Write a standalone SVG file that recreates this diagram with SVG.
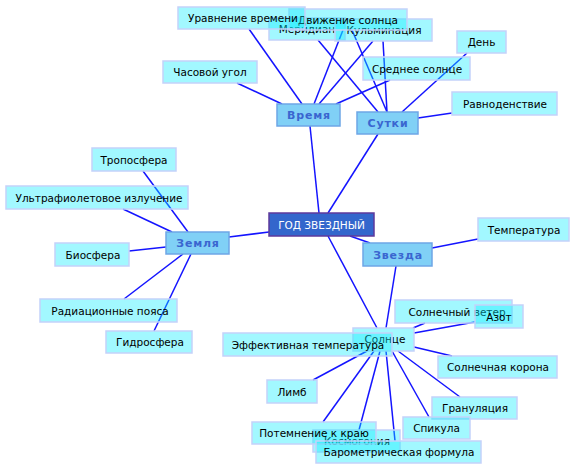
<svg xmlns="http://www.w3.org/2000/svg" width="576" height="470" viewBox="0 0 576 470">
<style>
.e{stroke:#1414ff;stroke-width:1.5;fill:none}
.l rect{fill:rgb(10,236,255);fill-opacity:0.38;stroke:#c4d2fa;stroke-width:1.5}
.l text{font-family:"DejaVu Sans",sans-serif;font-size:10.5px;fill:#000;text-anchor:middle}
.m rect{fill:#80d0f6;stroke:#6ea6e6;stroke-width:1.5}
.m text{font-family:"DejaVu Sans",sans-serif;font-size:11px;font-weight:bold;fill:#3a66d0;text-anchor:middle;letter-spacing:0.8px}
.c rect{fill:#3366cc;stroke:#5e3a9c;stroke-width:1.5}
.c text{font-family:"DejaVu Sans",sans-serif;font-size:10.5px;fill:#fff;text-anchor:middle}
</style>
<rect width="576" height="470" fill="#fff"/>
<g id="connectors" class="e">
<line x1="249" y1="29" x2="302" y2="104"/>
<line x1="237" y1="83" x2="282" y2="104"/>
<line x1="343" y1="30" x2="314" y2="104"/>
<line x1="373" y1="41" x2="319" y2="104"/>
<line x1="390" y1="80" x2="336" y2="104"/>
<line x1="310" y1="126" x2="319" y2="213"/>
<line x1="318" y1="40" x2="378" y2="112"/>
<line x1="352" y1="30" x2="387" y2="112"/>
<line x1="383" y1="41" x2="387" y2="112"/>
<line x1="467" y1="53" x2="402" y2="112"/>
<line x1="452" y1="113" x2="418" y2="118"/>
<line x1="378" y1="134" x2="328" y2="213"/>
<line x1="143" y1="171" x2="188" y2="232"/>
<line x1="123" y1="209" x2="172" y2="232"/>
<line x1="129" y1="251" x2="166" y2="247"/>
<line x1="124" y1="299" x2="183" y2="254"/>
<line x1="154" y1="331" x2="191" y2="254"/>
<line x1="229" y1="237" x2="269" y2="232"/>
<line x1="350" y1="236" x2="370" y2="243"/>
<line x1="432" y1="248" x2="478" y2="239"/>
<line x1="396" y1="266" x2="386" y2="328"/>
<line x1="328" y1="236" x2="377" y2="328"/>
<line x1="425" y1="323" x2="413" y2="328"/>
<line x1="475" y1="322" x2="414" y2="333"/>
<line x1="452" y1="356" x2="414" y2="347"/>
<line x1="460" y1="397" x2="398" y2="351"/>
<line x1="429" y1="417" x2="392" y2="351"/>
<line x1="395" y1="441" x2="386" y2="351"/>
<line x1="359" y1="430" x2="380" y2="351"/>
<line x1="323" y1="422" x2="374" y2="351"/>
<line x1="313" y1="380" x2="367" y2="351"/>
</g>
<g id="n-meridian" class="l"><rect x="269" y="18" width="76" height="22"/><text x="307" y="33">Меридиан</text></g>
<g id="n-kulminacia" class="l"><rect x="335" y="19" width="97" height="22"/><text x="384" y="34">Кульминация</text></g>
<g id="n-dvizhenie" class="l"><rect x="289" y="9" width="118" height="21"/><text x="348" y="23.5">Движение солнца</text></g>
<g id="n-uravnenie" class="l"><rect x="178" y="7" width="127" height="22"/><text x="243" y="22">Уравнение времени</text></g>
<g id="n-chasovoy" class="l"><rect x="163" y="61" width="94" height="22"/><text x="210" y="76">Часовой угол</text></g>
<g id="n-srednee" class="l"><rect x="363" y="57" width="107" height="23"/><text x="417" y="72.5">Среднее солнце</text></g>
<g id="n-den" class="l"><rect x="457" y="31" width="49" height="22"/><text x="481.5" y="46">День</text></g>
<g id="n-ravnodenstvie" class="l"><rect x="452" y="92" width="105" height="23"/><text x="505" y="107.5">Равноденствие</text></g>
<g id="n-troposfera" class="l"><rect x="92" y="148" width="84" height="23"/><text x="134" y="163.5">Тропосфера</text></g>
<g id="n-ultra" class="l"><rect x="6" y="186" width="182" height="23"/><text x="99" y="201.5">Ультрафиолетовое излучение</text></g>
<g id="n-biosfera" class="l"><rect x="55" y="243" width="74" height="23"/><text x="93" y="258.5">Биосфера</text></g>
<g id="n-radiacionnye" class="l"><rect x="40" y="299" width="137" height="23"/><text x="110" y="314.5">Радиационные пояса</text></g>
<g id="n-gidrosfera" class="l"><rect x="106" y="331" width="86" height="22"/><text x="150" y="346">Гидросфера</text></g>
<g id="n-temperatura" class="l"><rect x="478" y="218" width="91" height="23"/><text x="524" y="233.5">Температура</text></g>
<g id="n-veter" class="l"><rect x="395" y="300" width="117" height="23"/><text x="457" y="315.5">Солнечный ветер</text></g>
<g id="n-azot" class="l"><rect x="475" y="305" width="48" height="23"/><text x="499" y="320.5">Азот</text></g>
<g id="n-solnce" class="l"><rect x="353" y="328" width="61" height="23"/><text x="385" y="343">Солнце</text></g>
<g id="n-effektivnaya" class="l"><rect x="223" y="333" width="169" height="23"/><text x="308" y="348.5">Эффективная температура</text></g>
<g id="n-korona" class="l"><rect x="438" y="356" width="119" height="22"/><text x="498" y="371">Солнечная корона</text></g>
<g id="n-limb" class="l"><rect x="267" y="380" width="50" height="23"/><text x="292" y="395.5">Лимб</text></g>
<g id="n-granulyacia" class="l"><rect x="432" y="397" width="85" height="22"/><text x="475" y="412">Грануляция</text></g>
<g id="n-spikula" class="l"><rect x="403" y="417" width="67" height="22"/><text x="436.5" y="432">Спикула</text></g>
<g id="n-kosmogonia" class="l"><rect x="313" y="430" width="87" height="22"/><text x="357" y="445">Космогония</text></g>
<g id="n-potemnenie" class="l"><rect x="252" y="422" width="124" height="22"/><text x="314" y="437">Потемнение к краю</text></g>
<g id="n-barometr" class="l"><rect x="316" y="441" width="165" height="22"/><text x="399" y="456">Барометрическая формула</text></g>
<g id="n-vremya" class="m"><rect x="277" y="104" width="63" height="22"/><text x="309" y="119">Время</text></g>
<g id="n-sutki" class="m"><rect x="357" y="112" width="61" height="22"/><text x="388" y="127">Сутки</text></g>
<g id="n-zemlya" class="m"><rect x="166" y="232" width="63" height="22"/><text x="198" y="247">Земля</text></g>
<g id="n-zvezda" class="m"><rect x="363" y="243" width="69" height="23"/><text x="398" y="258.5">Звезда</text></g>
<g id="n-god" class="c"><rect x="269" y="213" width="105" height="23"/><text x="321.5" y="228.5">ГОД ЗВЕЗДНЫЙ</text></g>
</svg>
